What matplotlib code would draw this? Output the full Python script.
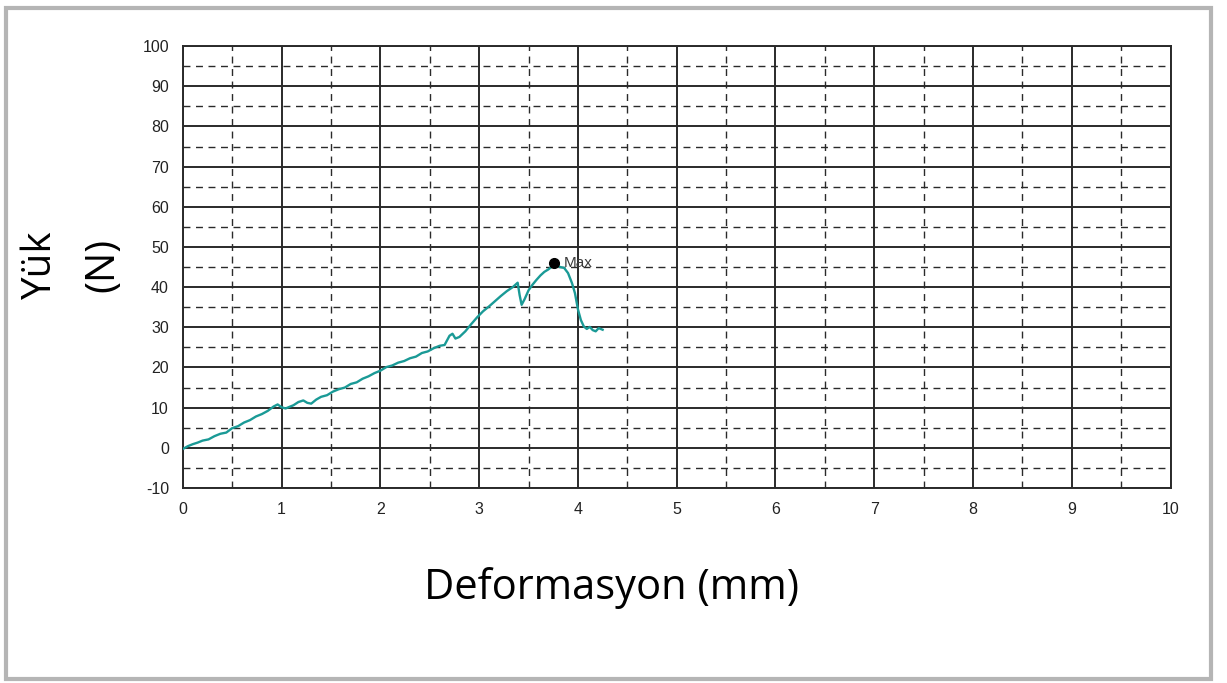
import matplotlib.pyplot as plt
from matplotlib.patches import Rectangle

plt.rcParams['axes.unicode_minus'] = False

# Load-deformation data
deformation = [0.00, 0.05, 0.10, 0.15, 0.20, 0.26, 0.32, 0.38, 0.44, 0.50,
               0.56, 0.62, 0.68, 0.74, 0.80, 0.86, 0.92, 0.96, 1.00, 1.04,
               1.08, 1.12, 1.17, 1.22, 1.26, 1.30, 1.35, 1.40, 1.46, 1.52,
               1.58, 1.64, 1.70, 1.76, 1.82, 1.88, 1.94, 2.00, 2.06, 2.12,
               2.18, 2.24, 2.30, 2.36, 2.42, 2.48, 2.54, 2.60, 2.65, 2.70,
               2.73, 2.76, 2.80, 2.86, 2.92, 2.98, 3.04, 3.10, 3.16, 3.22,
               3.28, 3.34, 3.39, 3.41, 3.43, 3.46, 3.50, 3.54, 3.58, 3.62,
               3.66, 3.70, 3.74, 3.78, 3.82, 3.86, 3.90, 3.94, 3.97, 4.00,
               4.03, 4.06, 4.09, 4.12, 4.15, 4.18, 4.21, 4.25]
load = [-0.3, 0.4, 0.9, 1.3, 1.8, 2.1, 2.9, 3.5, 3.8, 4.9,
        5.4, 6.3, 6.9, 7.8, 8.4, 9.2, 10.3, 10.8, 10.1, 9.8,
        10.2, 10.6, 11.4, 11.8, 11.2, 11.0, 12.0, 12.7, 13.1, 14.0,
        14.6, 15.0, 15.9, 16.3, 17.2, 17.8, 18.6, 19.2, 20.1, 20.5,
        21.2, 21.6, 22.3, 22.7, 23.6, 24.0, 24.8, 25.4, 25.6, 27.9,
        28.4, 27.2, 27.6, 29.0, 30.8, 32.5, 34.0, 35.2, 36.5, 37.8,
        39.0, 40.0, 41.1, 38.0, 35.6, 37.0, 39.2, 40.6, 41.8, 42.9,
        43.8, 44.4, 45.2, 45.5, 45.0, 44.8, 43.5, 41.0, 38.5, 34.5,
        31.8, 30.2, 29.6, 30.1, 29.3, 29.0, 29.8, 29.4]

max_point = (3.76, 45.9)

x_ticks = list(range(0, 11))
y_ticks = list(range(-10, 101, 10))

fig = plt.figure(figsize=(12.27, 6.83), dpi=100)
ax = fig.add_axes([0.149, 0.2855, 0.805, 0.647])

# grid: solid major lines, dashed half lines
for x in x_ticks:
    ax.axvline(x, color='#2a2a2a', lw=1.4, zorder=1)
    if x < 10:
        ax.axvline(x + 0.5, color='#2a2a2a', lw=1.0, ls=(0, (5, 4)), zorder=1)
for y in y_ticks:
    ax.axhline(y, color='#2a2a2a', lw=1.4, zorder=1)
    if y < 100:
        ax.axhline(y + 5, color='#2a2a2a', lw=1.0, ls=(0, (5, 4)), zorder=1)

ax.plot(deformation, load, color='#1a9a96', lw=1.7, zorder=3)
ax.plot(*max_point, 'o', color='black', ms=7, zorder=4)
ax.text(max_point[0] + 0.1, max_point[1], 'Max', fontsize=11, color='#3a3a3a',
        family='Liberation Sans', va='center', ha='left', zorder=4)

ax.set_xlim(0, 10)
ax.set_ylim(-10, 100)
ax.set_xticks(x_ticks)
ax.set_yticks(y_ticks)
ax.tick_params(length=0, labelsize=11.5, labelcolor='#222222', pad=10)
for lbl in ax.get_xticklabels() + ax.get_yticklabels():
    lbl.set_family('Liberation Sans')
for s in ax.spines.values():
    s.set_color('#2a2a2a')
    s.set_linewidth(1.4)

fig.text(0.498, 0.139, 'Deformasyon (mm)', fontsize=30, family='Open Sans',
         ha='center', va='center')
fig.text(0.033, 0.612, 'Yük', fontsize=29, family='Open Sans', rotation=90,
         ha='center', va='center')
fig.text(0.084, 0.612, '(N)', fontsize=29, family='Open Sans', rotation=90,
         ha='center', va='center')

# light gray frame around the picture
fig.patches.append(Rectangle((0.005, 0.006), 0.982, 0.982, transform=fig.transFigure,
                             fill=False, edgecolor='#b5b5b5', lw=3))

fig.savefig('out.png', dpi=100)
